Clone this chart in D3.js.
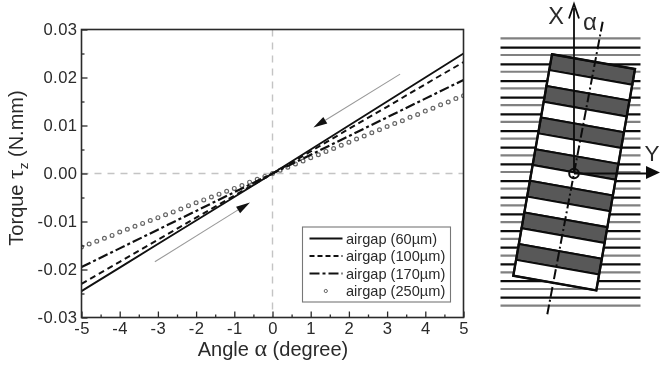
<!DOCTYPE html>
<html><head><meta charset="utf-8">
<script src="https://d3js.org/d3.v7.min.js"></script>
<style>html,body{margin:0;padding:0;background:#fff;overflow:hidden}svg{display:block;filter:blur(0.5px)}text{font-family:"Liberation Sans",Arial,sans-serif;fill:#2a2a2a}</style>
</head><body><svg id="c" width="660" height="371"></svg>
<script>
const xTicks=[-5,-4,-3,-2,-1,0,1,2,3,4,5];
const xMinor=[-4.5,-3.5,-2.5,-1.5,-0.5,0.5,1.5,2.5,3.5,4.5];
const yTicks=[-0.03,-0.02,-0.01,0,0.01,0.02,0.03];
const yMinor=[-0.025,-0.015,-0.005,0.005,0.015,0.025];
const angleLine=[-5,-4,-3,-2,-1,0,1,2,3,4,5];
const gap60=[-0.0245,-0.0196,-0.0147,-0.0098,-0.0049,0,0.005,0.01,0.015,0.02,0.025];
const gap100=[-0.023,-0.0184,-0.0138,-0.0092,-0.0046,0,0.0046,0.0093,0.0139,0.0186,0.0232];
const gap170=[-0.0195,-0.0156,-0.0117,-0.0078,-0.0039,0,0.0039,0.0078,0.0117,0.0156,0.0195];
const anglePts=[-5,-4.8,-4.6,-4.4,-4.2,-4,-3.8,-3.6,-3.4,-3.2,-3,-2.8,-2.6,-2.4,-2.2,-2,-1.8,-1.6,-1.4,-1.2,-1,-0.8,-0.6,-0.4,-0.2,0,0.2,0.4,0.6,0.8,1,1.2,1.4,1.6,1.8,2,2.2,2.4,2.6,2.8,3,3.2,3.4,3.6,3.8,4,4.2,4.4,4.6,4.8,5];
const gap250=[-0.0153,-0.0147,-0.0141,-0.0135,-0.0129,-0.0122,-0.0116,-0.011,-0.0104,-0.0098,-0.0092,-0.0086,-0.008,-0.0074,-0.0067,-0.0061,-0.0055,-0.0049,-0.0043,-0.0037,-0.0031,-0.0025,-0.0018,-0.0012,-0.0006,0,0.0007,0.0013,0.002,0.0026,0.0033,0.0039,0.0046,0.0052,0.0059,0.0065,0.0072,0.0078,0.0085,0.0091,0.0098,0.0104,0.011,0.0117,0.0123,0.013,0.0136,0.0143,0.0149,0.0156,0.0162];
const legendLabels=["airgap (60µm)","airgap (100µm)","airgap (170µm)","airgap (250µm)"];
const arrowAngles=[[3.34,1.07],[-3.08,-0.59]];
const arrowTorques=[[0.0207,0.00956],[-0.0184,-0.00604]];
const grayStripes=d3.range(17);
const blackStripes=d3.range(16);
const cells=d3.range(14);

const svg=d3.select("#c");
const L=81.5,R=463.5,T=29.5,B=317.5;
const x=d3.scaleLinear().domain([-5,5]).range([L,R]);
const y=d3.scaleLinear().domain([-0.03,0.03]).range([B,T]);
const dark="#2a2a2a";
const defs=svg.append("defs");
defs.append("clipPath").attr("id","p").append("rect").attr("x",L).attr("y",T).attr("width",R-L).attr("height",B-T);

// zero reference lines
svg.append("line").attr("x1",L).attr("x2",R).attr("y1",y(0)).attr("y2",y(0)).attr("stroke","#c4c4c4").attr("stroke-width",1.4).attr("stroke-dasharray","7,6");
svg.append("line").attr("x1",x(0)).attr("x2",x(0)).attr("y1",T).attr("y2",B).attr("stroke","#c4c4c4").attr("stroke-width",1.4).attr("stroke-dasharray","7,6");

// series
const plot=svg.append("g").attr("clip-path","url(#p)");
const ln=d3.line().x((d,i)=>x(angleLine[i])).y(d=>y(d));
plot.append("g").selectAll("circle").data(gap250).join("circle").attr("cx",(d,i)=>x(anglePts[i])).attr("cy",d=>y(d)).attr("r",1.9).attr("fill","#fff").attr("stroke","#666").attr("stroke-width",1.2);
[[gap170,"10,3,3,3",2.2],[gap100,"6,4",2],[gap60,null,1.9]].forEach(([s,da,w])=>{
  plot.append("path").attr("d",ln(s)).attr("fill","none").attr("stroke","#111").attr("stroke-width",w).attr("stroke-dasharray",da);
});

// guide arrows
arrowAngles.forEach((a,i)=>{
  const x1=x(a[0]),y1=y(arrowTorques[i][0]),x2=x(a[1]),y2=y(arrowTorques[i][1]);
  const ang=Math.atan2(y2-y1,x2-x1),hl=14,hw=3.8;
  const bx=x2-hl*Math.cos(ang),by=y2-hl*Math.sin(ang);
  svg.append("line").attr("x1",x1).attr("y1",y1).attr("x2",bx).attr("y2",by).attr("stroke","#999").attr("stroke-width",1.1);
  svg.append("path").attr("d",`M${x2},${y2}L${bx-hw*Math.sin(ang)},${by+hw*Math.cos(ang)}L${bx+hw*Math.sin(ang)},${by-hw*Math.cos(ang)}Z`).attr("fill","#111");
});

// axes
function tickStyle(g){g.select(".domain").remove();g.selectAll("line").attr("stroke",dark).attr("stroke-width",1.3);g.selectAll("text").attr("font-size",16.6).attr("letter-spacing",0.45).attr("fill",dark).style("font-family",'"Liberation Sans",Arial,sans-serif');}
const xa=svg.append("g").attr("transform",`translate(0,${B})`).call(d3.axisBottom(x).tickValues(xTicks).tickSizeInner(-6).tickPadding(4.5));
xa.call(tickStyle);xa.selectAll("text").attr("dy","0.75em").text(d=>d<0?"-"+Math.abs(d):d);
const xm=svg.append("g").attr("transform",`translate(0,${B})`).call(d3.axisBottom(x).tickValues(xMinor).tickFormat("").tickSizeInner(-3));xm.call(tickStyle);
const ya=svg.append("g").attr("transform",`translate(${L},0)`).call(d3.axisLeft(y).tickValues(yTicks).tickSizeInner(-6).tickPadding(4));
ya.call(tickStyle);ya.selectAll("text").text(d=>(d<0?"-":"")+Math.abs(d).toFixed(2)).attr("dy","0.32em");
const ym=svg.append("g").attr("transform",`translate(${L},0)`).call(d3.axisLeft(y).tickValues(yMinor).tickFormat("").tickSizeInner(-3));ym.call(tickStyle);
svg.append("rect").attr("x",L).attr("y",T).attr("width",R-L).attr("height",B-T).attr("fill","none").attr("stroke",dark).attr("stroke-width",1.6);

// axis titles
const xt=svg.append("text").attr("x",273).attr("y",355.5).attr("text-anchor","middle").attr("font-size",20);
xt.append("tspan").text("Angle ");xt.append("tspan").text("α").attr("font-size",24).style("font-family",'"Liberation Serif",serif');xt.append("tspan").text(" (degree)");
const yt=svg.append("text").attr("transform","translate(23,168) rotate(-90)").attr("text-anchor","middle").attr("font-size",20);
yt.append("tspan").text("Torque ");yt.append("tspan").text("τ").attr("font-size",24).style("font-family",'"Liberation Serif",serif');
yt.append("tspan").text("z").attr("font-size",13.5).attr("dy",5);yt.append("tspan").text(" (N.mm)").attr("dy",-5);

// legend
const leg=svg.append("g");
leg.append("rect").attr("x",302.5).attr("y",227).attr("width",148).attr("height",75).attr("fill","#fff").attr("stroke","#777").attr("stroke-width",1.1);
const legY=[238.5,256,273.5,291];
[[null,1.9],["5,3",2],["10,3,3,3",2.2]].forEach(([da,w],i)=>{
  leg.append("line").attr("x1",309.5).attr("x2",342.5).attr("y1",legY[i]).attr("y2",legY[i]).attr("stroke","#111").attr("stroke-width",w).attr("stroke-dasharray",da);
});
leg.append("circle").attr("cx",325.8).attr("cy",legY[3]).attr("r",1.6).attr("fill","#fff").attr("stroke","#666");
leg.selectAll("text").data(legendLabels).join("text").attr("x",346).attr("y",(d,i)=>legY[i]+5).attr("font-size",14.6).text(d=>d);

// schematic
const sch=svg.append("g");
const sy=d3.scaleLinear().domain([0,16]).range([38.3,305.7]);
const by=d3.scaleLinear().domain([0,15]).range([47.7,297.7]);
const sX=[500.5,640.5];
sch.selectAll(".g").data(grayStripes).join("line").attr("x1",sX[0]).attr("x2",sX[1]).attr("y1",d=>sy(d)).attr("y2",d=>sy(d)).attr("stroke","#808080").attr("stroke-width",2.2);
sch.selectAll(".b").data(blackStripes).join("line").attr("x1",sX[0]).attr("x2",sX[1]).attr("y1",d=>by(d)).attr("y2",d=>by(d)).attr("stroke","#0c0c0c").attr("stroke-width",2.2);
const tl=[552,54.3],tr=[635,69],bl=[513.3,275.7];
const cu=d3.scaleLinear().domain([0,14]);
const cxL=cu.copy().range([tl[0],bl[0]]),cyL=cu.copy().range([tl[1],bl[1]]);
const dx=tr[0]-tl[0],dy=tr[1]-tl[1];
const cellPath=i=>`M${cxL(i)},${cyL(i)}l${dx},${dy}L${cxL(i+1)+dx},${cyL(i+1)+dy}L${cxL(i+1)},${cyL(i+1)}Z`;
sch.selectAll(".c").data(cells).join("path").attr("d",cellPath).attr("fill",d=>d%2?"#fff":"#585858").attr("stroke","#0c0c0c").attr("stroke-width",2);
sch.append("path").attr("d",`M${cxL(0)},${cyL(0)}l${dx},${dy}L${cxL(14)+dx},${cyL(14)+dy}L${cxL(14)},${cyL(14)}Z`).attr("fill","none").attr("stroke","#0c0c0c").attr("stroke-width",2.4);
sch.append("line").attr("x1",602.7).attr("y1",21.7).attr("x2",547.3).attr("y2",314.3).attr("stroke","#0c0c0c").attr("stroke-width",2).attr("stroke-dasharray","10,3,2,3");
sch.append("line").attr("x1",574).attr("y1",173).attr("x2",574).attr("y2",8).attr("stroke","#0c0c0c").attr("stroke-width",1.8);
sch.append("path").attr("d","M569,18.5L574,4L579,18.5").attr("fill","none").attr("stroke","#0c0c0c").attr("stroke-width",1.8);
sch.append("line").attr("x1",574).attr("y1",173.5).attr("x2",648).attr("y2",173.5).attr("stroke","#0c0c0c").attr("stroke-width",1.8);
sch.append("path").attr("d","M646,166L660,172.5L646,179Z").attr("fill","#0c0c0c");
sch.append("circle").attr("cx",574).attr("cy",173.5).attr("r",4.8).attr("fill","none").attr("stroke","#0c0c0c").attr("stroke-width",2);
sch.append("text").attr("x",556).attr("y",23.5).attr("text-anchor","middle").attr("font-size",23.5).text("X");
sch.append("text").attr("x",590).attr("y",30).attr("text-anchor","middle").attr("font-size",24).text("α");
sch.append("text").attr("x",652).attr("y",160.5).attr("text-anchor","middle").attr("font-size",22.5).text("Y");
</script></body></html>
